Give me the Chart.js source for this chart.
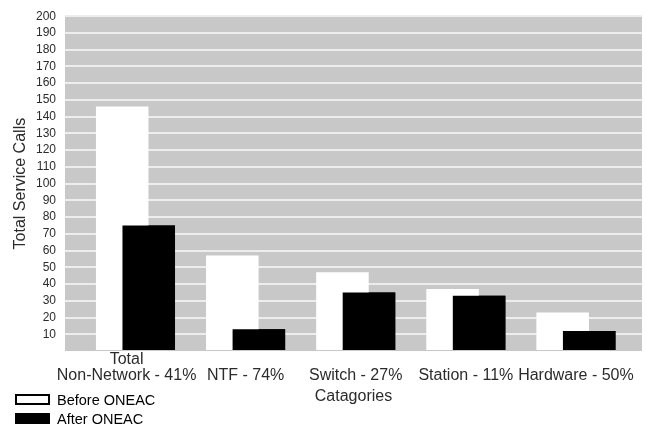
<!DOCTYPE html>
<html>
<head>
<meta charset="utf-8">
<script src="https://cdn.jsdelivr.net/npm/chart.js@4/dist/chart.umd.min.js"></script>
<style>
  html, body { margin: 0; padding: 0; background: #ffffff; }
  #wrap { width: 647px; height: 427px; }
</style>
</head>
<body>
<div id="wrap"><canvas id="calls" width="647" height="427"></canvas></div>
<script>
// Service call categories (with percentage reduction) and call counts
const categories = [['Total', 'Non-Network - 41%'], 'NTF - 74%', 'Switch - 27%', 'Station - 11%', 'Hardware - 50%'];
const seriesNames = ['Before ONEAC', 'After ONEAC'];
const beforeCalls = [146, 57, 47, 37, 23];
const afterCalls = [75, 13, 35, 33, 12];

const FONT = '"Liberation Sans", Arial, Helvetica, sans-serif';
const TEXT = '#2b2b2b';

// bars sit on a numeric index axis so the category spacing can be tuned
const toPoints = (vals) => vals.map((v, i) => ({ x: i, y: v }));

// grey plotting field behind the grid
const plotBackground = {
  id: 'plotBackground',
  beforeDraw(chart) {
    const { ctx, chartArea: a } = chart;
    ctx.save();
    ctx.fillStyle = '#ffffff';
    ctx.fillRect(0, 0, chart.width, chart.height);
    ctx.fillStyle = '#c8c8c8';
    ctx.fillRect(a.left, a.top, a.right - a.left, a.bottom - a.top);
    ctx.restore();
  }
};

// the "after" bars overlap the "before" bars, so paint them last
const afterOnTop = {
  id: 'afterOnTop',
  afterDatasetsDraw(chart) {
    const meta = chart.getDatasetMeta(1);
    if (meta.visible) meta.controller.draw();
  }
};

// two-row key in the lower-left corner
const stackedKey = {
  id: 'stackedKey',
  afterDraw(chart) {
    const { ctx } = chart;
    ctx.save();
    ctx.font = '14.5px ' + FONT;
    ctx.textBaseline = 'middle';
    ctx.textAlign = 'left';
    chart.data.datasets.forEach((ds, i) => {
      const top = chart.height - 33 + i * 19;
      ctx.fillStyle = ds.backgroundColor;
      ctx.fillRect(15, top, 35, 11);
      ctx.lineWidth = 2;
      ctx.strokeStyle = '#000000';
      ctx.strokeRect(16, top + 1, 33, 9);
      ctx.fillStyle = '#000000';
      ctx.fillText(ds.label, 57, top + 6.5);
    });
    ctx.restore();
  }
};

new Chart(document.getElementById('calls'), {
  type: 'bar',
  data: {
    datasets: [
      { label: seriesNames[0], data: toPoints(beforeCalls), backgroundColor: '#ffffff', borderWidth: 0 },
      { label: seriesNames[1], data: toPoints(afterCalls), backgroundColor: '#000000', borderWidth: 0 }
    ]
  },
  plugins: [plotBackground, afterOnTop, stackedKey],
  options: {
    responsive: false,
    animation: false,
    events: [],
    categoryPercentage: 0.482,
    barPercentage: 1.98,
    layout: { padding: { top: 14, right: 5, bottom: 20.4, left: 10.8 } },
    plugins: {
      legend: { display: false },
      tooltip: { enabled: false }
    },
    scales: {
      x: {
        type: 'linear',
        offset: false,
        min: -0.64,
        max: 4.6,
        afterFit: (s) => { s.paddingLeft = 0; s.paddingRight = 0; },
        grid: { display: false, drawTicks: false },
        border: { display: false },
        ticks: {
          stepSize: 1,
          includeBounds: false,
          autoSkip: false,
          maxRotation: 0,
          minRotation: 0,
          padding: 0,
          color: TEXT,
          font: { family: FONT, size: 16, lineHeight: 1.03 },
          callback: (v) => {
            if (!Number.isInteger(v) || v < 0 || v >= categories.length) return '';
            const c = categories[v];
            // the long two-line label is nudged left so it clears its neighbour
            if (Array.isArray(c)) return c.map((s) => s + '\u00a0'.repeat(4));
            return ['', c];
          }
        },
        title: {
          display: true,
          text: 'Catagories',
          color: TEXT,
          font: { family: FONT, size: 16 },
          padding: { top: 3.4, bottom: 0 }
        }
      },
      y: {
        min: 0,
        max: 200,
        afterFit: (s) => { s.width = 54.2; },
        grid: {
          drawTicks: false,
          lineWidth: 2,
          color: (c) => (c.tick && c.tick.value === 0 ? 'rgba(0,0,0,0)' : '#ededed')
        },
        border: { display: false },
        ticks: {
          stepSize: 10,
          autoSkip: false,
          padding: 9,
          color: TEXT,
          font: { family: FONT, size: 12 },
          callback: (v) => (v === 0 ? '' : v)
        },
        title: {
          display: true,
          text: 'Total Service Calls',
          color: TEXT,
          font: { family: FONT, size: 16 },
          padding: { top: 0, bottom: 6 }
        }
      }
    }
  }
});
</script>
</body>
</html>
